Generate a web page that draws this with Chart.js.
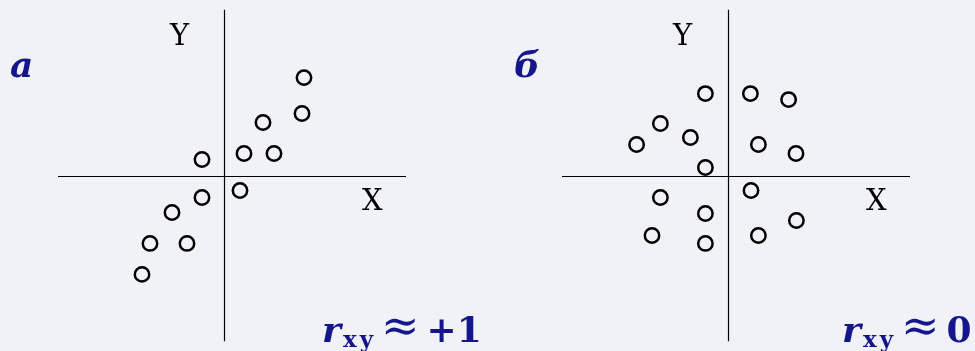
<!DOCTYPE html>
<html>
<head>
<meta charset="utf-8">
<script src="https://cdn.jsdelivr.net/npm/chart.js@4"></script>
<style>
  html, body { margin: 0; padding: 0; }
  body { width: 975px; height: 351px; background: #f1f2f8; position: relative; overflow: hidden; }
  canvas { position: absolute; top: 0; }
  #chartA { left: 0; }
  #chartB { left: 487px; }
  .lbl { position: absolute; line-height: 1; white-space: nowrap; }
  .axis { font-family: "DejaVu Serif", serif; font-size: 29px; color: #000; }
  .blue { font-family: "DejaVu Serif", serif; font-weight: bold; color: #16168c; font-size: 36px; }
  .it { font-style: italic; }
  .sub { font-size: 23px; line-height: 0; vertical-align: -5px; letter-spacing: 3px; margin-left: 2px; }
  .approx { font-size: 46px; font-weight: normal; line-height: 0; margin-left: 5px; vertical-align: 1px; }
  .num { margin-left: 7px; }
</style>
</head>
<body>
<canvas id="chartA" width="487" height="351"></canvas>
<canvas id="chartB" width="488" height="351"></canvas>

<div class="lbl blue it" style="left:10px; top:46px;">a</div>
<div class="lbl blue it" style="left:514px; top:46px;">б</div>

<div class="lbl axis" style="left:170px; top:21px;">Y</div>
<div class="lbl axis" style="left:362px; top:186px;">X</div>
<div class="lbl axis" style="left:673px; top:21px;">Y</div>
<div class="lbl axis" style="left:866px; top:186px;">X</div>

<div class="lbl blue" style="left:322px; top:311px;"><span class="it">r</span><span class="sub">xy</span><span class="approx">≈</span><span class="num">+1</span></div>
<div class="lbl blue" style="left:842px; top:311px;"><span class="it">r</span><span class="sub">xy</span><span class="approx">≈</span><span class="num">0</span></div>

<script>
// Panel a: strong positive correlation
const posX = [4.0, 3.9, 1.95, 1.0, 2.5, -1.1, 0.8, -1.1, -2.6, -3.7, -1.85, -4.1];
const posY = [4.9, 3.1, 2.65, 1.1, 1.1, 0.8, -0.75, -1.1, -1.85, -3.4, -3.4, -4.95];

// Panel b: no correlation
const zeroX = [-1.13, 1.12, 3.03, -3.38, -1.88, -4.57, 1.52, 3.4, -1.13, 1.15, -3.38, -1.13, 3.42, -3.8, 1.52, -1.13];
const zeroY = [4.1, 4.1, 3.8, 2.6, 1.9, 1.55, 1.55, 1.1, 0.4, -0.75, -1.1, -1.9, -2.25, -3.0, -3.0, -3.4];

// Axis extents (data units)
const xRange = [-8.3, 9.1];
const yRange = [-8.3, 8.3];

// Draws the two crossing axes through the origin
const crossAxes = {
  id: 'crossAxes',
  beforeDatasetsDraw(chart) {
    const { ctx, chartArea: a, scales } = chart;
    const x0 = Math.round(scales.x.getPixelForValue(0)) + 0.5;
    const y0 = Math.round(scales.y.getPixelForValue(0)) + 0.5;
    ctx.save();
    ctx.strokeStyle = '#000';
    ctx.lineWidth = 1.2;
    ctx.beginPath();
    ctx.moveTo(a.left, y0); ctx.lineTo(a.right, y0);
    ctx.moveTo(x0, a.top); ctx.lineTo(x0, a.bottom);
    ctx.stroke();
    ctx.restore();
  }
};

function makeChart(id, xs, ys, padding) {
  const pts = xs.map((x, i) => ({ x, y: ys[i] }));
  return new Chart(document.getElementById(id), {
    type: 'scatter',
    data: {
      datasets: [{
        data: pts,
        pointRadius: 7.2,
        pointBorderWidth: 2.5,
        borderColor: '#000',
        pointBackgroundColor: 'rgba(0,0,0,0)',
        backgroundColor: 'rgba(0,0,0,0)'
      }]
    },
    options: {
      responsive: false,
      animation: false,
      devicePixelRatio: 1,
      layout: { padding },
      plugins: { legend: { display: false }, tooltip: { enabled: false } },
      scales: {
        x: { type: 'linear', min: xRange[0], max: xRange[1], display: false },
        y: { type: 'linear', min: yRange[0], max: yRange[1], display: false }
      }
    },
    plugins: [crossAxes]
  });
}

makeChart('chartA', posX, posY, { left: 58, right: 81, top: 9.5, bottom: 9.5 });
makeChart('chartB', zeroX, zeroY, { left: 75, right: 65, top: 9.5, bottom: 9.5 });
</script>
</body>
</html>
